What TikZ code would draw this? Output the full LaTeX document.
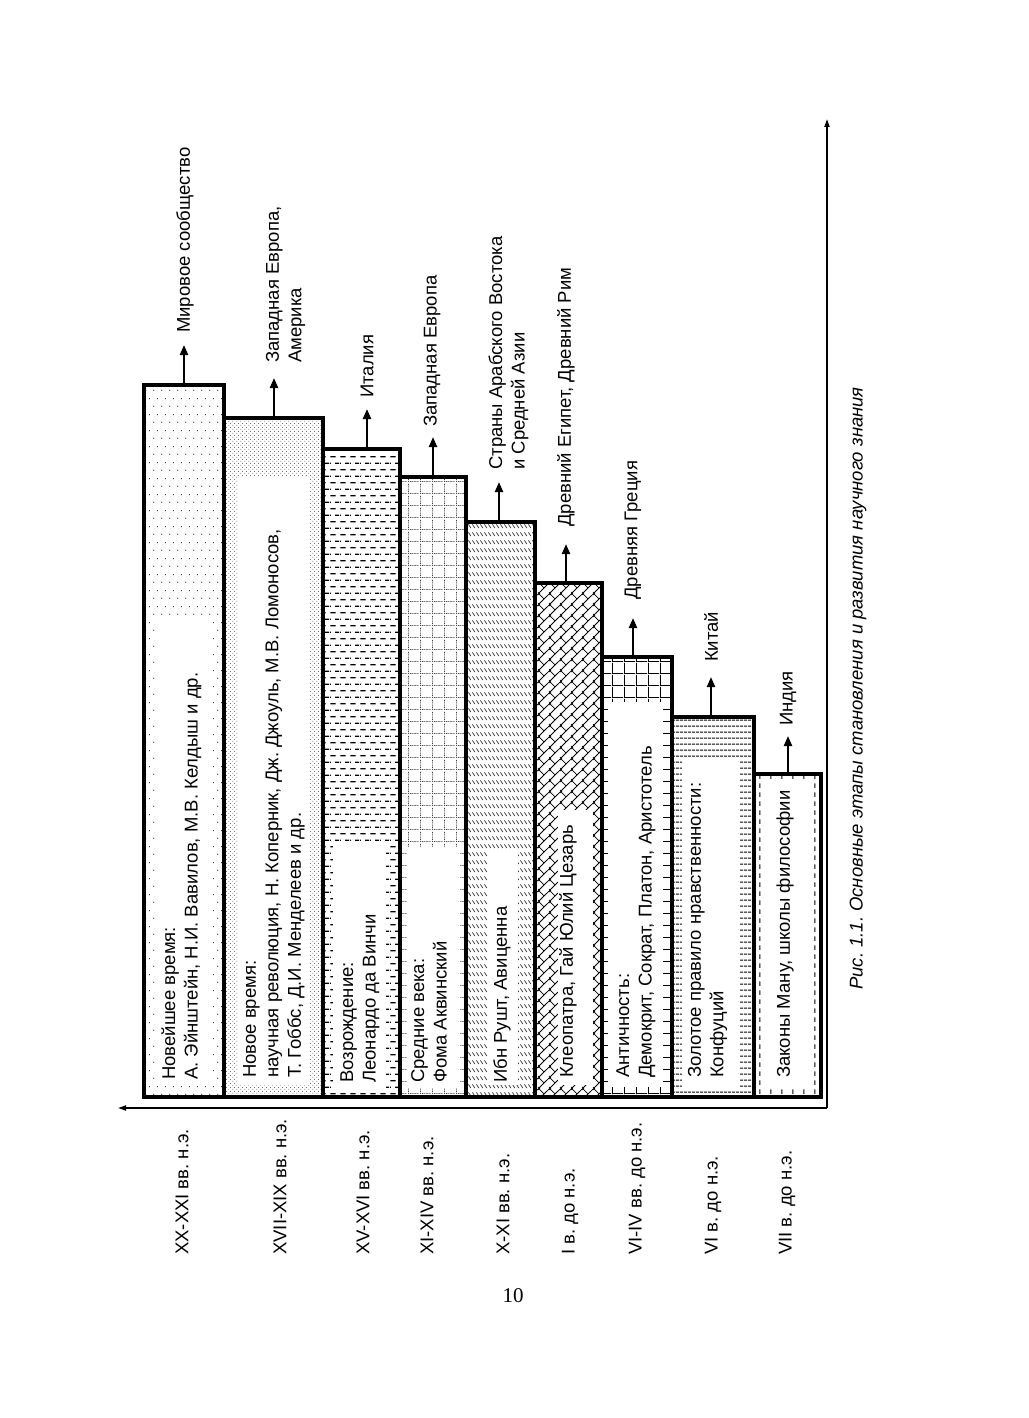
\documentclass[tikz,border=0pt]{standalone}
\usepackage{fontspec}
\setmainfont{Liberation Sans}
\newfontfamily\pagenumfont{Liberation Serif}
\usetikzlibrary{patterns,arrows.meta}
\newcommand\txtsize{\fontsize{18.5}{22.5}\selectfont}
\frenchspacing

\pgfdeclarepatternformonly{psparsedots}{\pgfqpoint{0pt}{0pt}}{\pgfqpoint{8pt}{16pt}}{\pgfqpoint{8pt}{16pt}}{%
  \pgfpathcircle{\pgfqpoint{2pt}{4pt}}{0.7pt}%
  \pgfpathcircle{\pgfqpoint{6pt}{12pt}}{0.7pt}%
  \pgfusepath{fill}}
\pgfdeclarepatternformonly{pdensedots}{\pgfqpoint{0pt}{0pt}}{\pgfqpoint{4pt}{4pt}}{\pgfqpoint{4pt}{4pt}}{%
  \pgfpathcircle{\pgfqpoint{1pt}{1pt}}{0.55pt}%
  \pgfpathcircle{\pgfqpoint{3pt}{3pt}}{0.55pt}%
  \pgfusepath{fill}}
\pgfdeclarepatternformonly{pdashrows}{\pgfqpoint{0pt}{0pt}}{\pgfqpoint{10pt}{13.4pt}}{\pgfqpoint{10pt}{13.4pt}}{%
  \pgfsetlinewidth{1.3pt}%
  \pgfpathmoveto{\pgfqpoint{0.5pt}{3.35pt}}\pgfpathlineto{\pgfqpoint{6pt}{3.35pt}}%
  \pgfpathmoveto{\pgfqpoint{5.5pt}{10.05pt}}\pgfpathlineto{\pgfqpoint{10pt}{10.05pt}}%
  \pgfpathmoveto{\pgfqpoint{0pt}{10.05pt}}\pgfpathlineto{\pgfqpoint{1pt}{10.05pt}}%
  \pgfusepath{stroke}}
\pgfdeclarepatternformonly{pdotgrid}{\pgfqpoint{0pt}{0pt}}{\pgfqpoint{12pt}{12pt}}{\pgfqpoint{12pt}{12pt}}{%
  \pgfsetlinewidth{0.9pt}\pgfsetdash{{1pt}{1pt}}{0pt}%
  \pgfpathmoveto{\pgfqpoint{0pt}{0.5pt}}\pgfpathlineto{\pgfqpoint{12pt}{0.5pt}}%
  \pgfpathmoveto{\pgfqpoint{0.5pt}{0pt}}\pgfpathlineto{\pgfqpoint{0.5pt}{12pt}}%
  \pgfusepath{stroke}}
\pgfdeclarepatternformonly{pslashes}{\pgfqpoint{0pt}{0pt}}{\pgfqpoint{4pt}{8pt}}{\pgfqpoint{4pt}{8pt}}{%
  \pgfsetlinewidth{0.8pt}%
  \pgfpathmoveto{\pgfqpoint{0.6pt}{6.3pt}}\pgfpathlineto{\pgfqpoint{3.4pt}{2.2pt}}%
  \pgfusepath{stroke}}
\pgfdeclarepatternformonly{pbricks}{\pgfqpoint{0pt}{0pt}}{\pgfqpoint{11pt}{11pt}}{\pgfqpoint{11pt}{11pt}}{%
  \pgfsetlinewidth{0.9pt}%
  \pgfpathmoveto{\pgfqpoint{-1pt}{-1pt}}\pgfpathlineto{\pgfqpoint{12pt}{12pt}}%
  \pgfpathmoveto{\pgfqpoint{-1pt}{10pt}}\pgfpathlineto{\pgfqpoint{2pt}{13pt}}%
  \pgfpathmoveto{\pgfqpoint{10pt}{-1pt}}\pgfpathlineto{\pgfqpoint{13pt}{2pt}}%
  \pgfpathmoveto{\pgfqpoint{5.5pt}{5.5pt}}\pgfpathlineto{\pgfqpoint{0pt}{11pt}}%
  \pgfpathmoveto{\pgfqpoint{16.5pt}{5.5pt}}\pgfpathlineto{\pgfqpoint{11pt}{11pt}}%
  \pgfpathmoveto{\pgfqpoint{5.5pt}{-5.5pt}}\pgfpathlineto{\pgfqpoint{0pt}{0pt}}%
  \pgfpathmoveto{\pgfqpoint{16.5pt}{-5.5pt}}\pgfpathlineto{\pgfqpoint{11pt}{0pt}}%
  \pgfusepath{stroke}}
\pgfdeclarepatternformonly{pgridlines}{\pgfqpoint{0pt}{0pt}}{\pgfqpoint{12pt}{12pt}}{\pgfqpoint{12pt}{12pt}}{%
  \pgfsetlinewidth{1pt}%
  \pgfpathmoveto{\pgfqpoint{0pt}{0.5pt}}\pgfpathlineto{\pgfqpoint{12pt}{0.5pt}}%
  \pgfpathmoveto{\pgfqpoint{0.5pt}{0pt}}\pgfpathlineto{\pgfqpoint{0.5pt}{12pt}}%
  \pgfusepath{stroke}}
\pgfdeclarepatternformonly{phlines}{\pgfqpoint{0pt}{0pt}}{\pgfqpoint{4pt}{5.8pt}}{\pgfqpoint{4pt}{5.8pt}}{%
  \pgfsetlinewidth{1pt}%
  \pgfpathmoveto{\pgfqpoint{0pt}{1pt}}\pgfpathlineto{\pgfqpoint{4pt}{1pt}}%
  \pgfusepath{stroke}}
\pgfdeclarepatternformonly{pvdash}{\pgfqpoint{0pt}{0pt}}{\pgfqpoint{11pt}{9pt}}{\pgfqpoint{11pt}{9pt}}{%
  \pgfsetlinewidth{1pt}%
  \pgfpathmoveto{\pgfqpoint{1pt}{0pt}}\pgfpathlineto{\pgfqpoint{1pt}{5pt}}%
  \pgfusepath{stroke}}

\begin{document}
\begin{tikzpicture}[x=1pt,y=-1pt,
  barfill/.style={anchor=south west, inner sep=0pt, outer sep=0pt, draw=none},
  barline/.style={line width=3.2pt, line join=miter},
  whitebox/.style={fill=white, draw=none},
  bartxt/.style={rotate=90, anchor=west, align=left, inner sep=0pt, font=\txtsize},
  toptxt/.style={rotate=90, anchor=west, align=left, inner sep=0pt, font=\txtsize},
  eratxt/.style={rotate=90, anchor=west, inner sep=0pt, font=\txtsize},
  barrow/.style={line width=2.2pt, -{Triangle[length=10pt,width=8pt]}},
  axis/.style={line width=1.8pt, -{Triangle[length=8pt,width=5pt]}}
]
\useasboundingbox (0,0) rectangle (1028,1418);

% bars (pattern fills)
\node[barfill, pattern=psparsedots, pattern color=black!80, minimum width=80, minimum height=712] (b1) at (144,1097) {};
\node[barfill, pattern=pdensedots, pattern color=black!75, minimum width=99, minimum height=679] (b2) at (224,1097) {};
\node[barfill, pattern=pdashrows, minimum width=77, minimum height=648] (b3) at (323,1097) {};
\node[barfill, pattern=pdotgrid, pattern color=black!75, minimum width=66, minimum height=620] (b4) at (400,1097) {};
\node[barfill, pattern=pslashes, pattern color=black!85, minimum width=69, minimum height=575] (b5) at (466,1097) {};
\node[barfill, pattern=pbricks, minimum width=67, minimum height=514] (b6) at (535,1097) {};
\node[barfill, pattern=pgridlines, minimum width=70, minimum height=440] (b7) at (602,1097) {};
\node[barfill, pattern=phlines, minimum width=82, minimum height=380] (b8) at (672,1097) {};
\node[barfill, pattern=pvdash, minimum width=67, minimum height=323] (b9) at (754,1097) {};

% white panels behind the texts
\fill[whitebox] (155,620) rectangle (213,1082);
\fill[whitebox] (238,477) rectangle (310,1085);
\fill[whitebox] (333,845) rectangle (386,1088);
\fill[whitebox] (407,847) rectangle (460,1088);
\fill[whitebox] (487,852) rectangle (518,1085);
\fill[whitebox] (558,810) rectangle (593,1085);
\fill[whitebox] (608,702) rectangle (663,1087);
\fill[whitebox] (682,758) rectangle (740,1087);
\fill[whitebox] (764,780) rectangle (808,1088);

% bar outlines
\foreach \b in {b1,b2,b3,b4,b5,b6,b7,b8,b9}
  \draw[barline] (\b.south west) rectangle (\b.north east);

% texts inside the bars
\node[bartxt] (t1) at (181.5,1080) {Новейшее время:\\А. Эйнштейн, Н.И. Вавилов, М.В. Келдыш и др.};
\node[bartxt] (t2) at (274,1078) {Новое время:\\научная революция, Н. Коперник, Дж. Джоуль, М.В. Ломоносов,\\Т. Гоббс, Д.И. Менделеев и др.};
\node[bartxt] (t3) at (360,1083) {Возрождение:\\Леонардо да Винчи};
\node[bartxt] (t4) at (429,1083) {Средние века:\\Фома Аквинский};
\node[bartxt] (t5) at (502,1083) {Ибн Рушт, Авиценна};
\node[bartxt] (t6) at (568,1078) {Клеопатра, Гай Юлий Цезарь};
\node[bartxt] (t7) at (636,1078) {Античность:\\Демокрит, Сократ, Платон, Аристотель};
\node[bartxt] (t8) at (707.5,1078) {Золотое правило нравственности:\\Конфуций};
\node[bartxt] (t9) at (785,1078) {Законы Ману, школы философии};

% arrow tips and region labels
\coordinate (a1) at (184,345);
\coordinate (a2) at (274,378);
\coordinate (a3) at (367,409);
\coordinate (a4) at (433,437);
\coordinate (a5) at (499,482);
\coordinate (a6) at (566,544);
\coordinate (a7) at (633,618);
\coordinate (a8) at (711,677);
\coordinate (a9) at (788,736);
\foreach \i in {1,...,9}
  \draw[barrow] (a\i |- b\i.north) -- (a\i);

\node[toptxt] (l1) at (185,333) {Мировое сообщество};
\node[toptxt] (l2) at (285.5,363) {Западная Европа,\\Америка};
\node[toptxt] (l3) at (367,398) {Италия};
\node[toptxt] (l4) at (432,427) {Западная Европа};
\node[toptxt] (l5) at (508.5,470) {Страны Арабского Востока\\и Средней Азии};
\node[toptxt] (l6) at (566,527) {Древний Египет, Древний Рим};
\node[toptxt] (l7) at (633,600) {Древняя Греция};
\node[toptxt] (l8) at (711,662) {Китай};
\node[toptxt] (l9) at (788,726) {Индия};

% axes
\coordinate (O) at (827,1108);
\coordinate (Ytip) at (827,119);
\coordinate (Xtip) at (118,1108);
\draw[axis] (O) -- (Ytip);
\draw[axis] (O) -- (Xtip);

% era labels
\node[eratxt] (e1) at (182,1255) {XX-XXI вв. н.э.};
\node[eratxt] (e2) at (280,1255) {XVII-XIX вв. н.э.};
\node[eratxt] (e3) at (363,1255) {XV-XVI вв. н.э.};
\node[eratxt] (e4) at (427,1255) {XI-XIV вв. н.э.};
\node[eratxt] (e5) at (503,1255) {X-XI вв. н.э.};
\node[eratxt] (e6) at (570,1255) {I в. до н.э.};
\node[eratxt] (e7) at (637,1255) {VI-IV вв. до н.э.};
\node[eratxt] (e8) at (713,1255) {VI в. до н.э.};
\node[eratxt] (e9) at (787,1255) {VII в. до н.э.};

% caption and page number
\node[rotate=90, anchor=west, inner sep=0pt, font=\txtsize\itshape] (cap) at (858,990) {Рис. 1.1. Основные этапы становления и развития научного знания};
\node[inner sep=0pt, font=\pagenumfont\fontsize{21}{24}\selectfont] (pg) at (513,1296) {10};
\end{tikzpicture}
\end{document}
